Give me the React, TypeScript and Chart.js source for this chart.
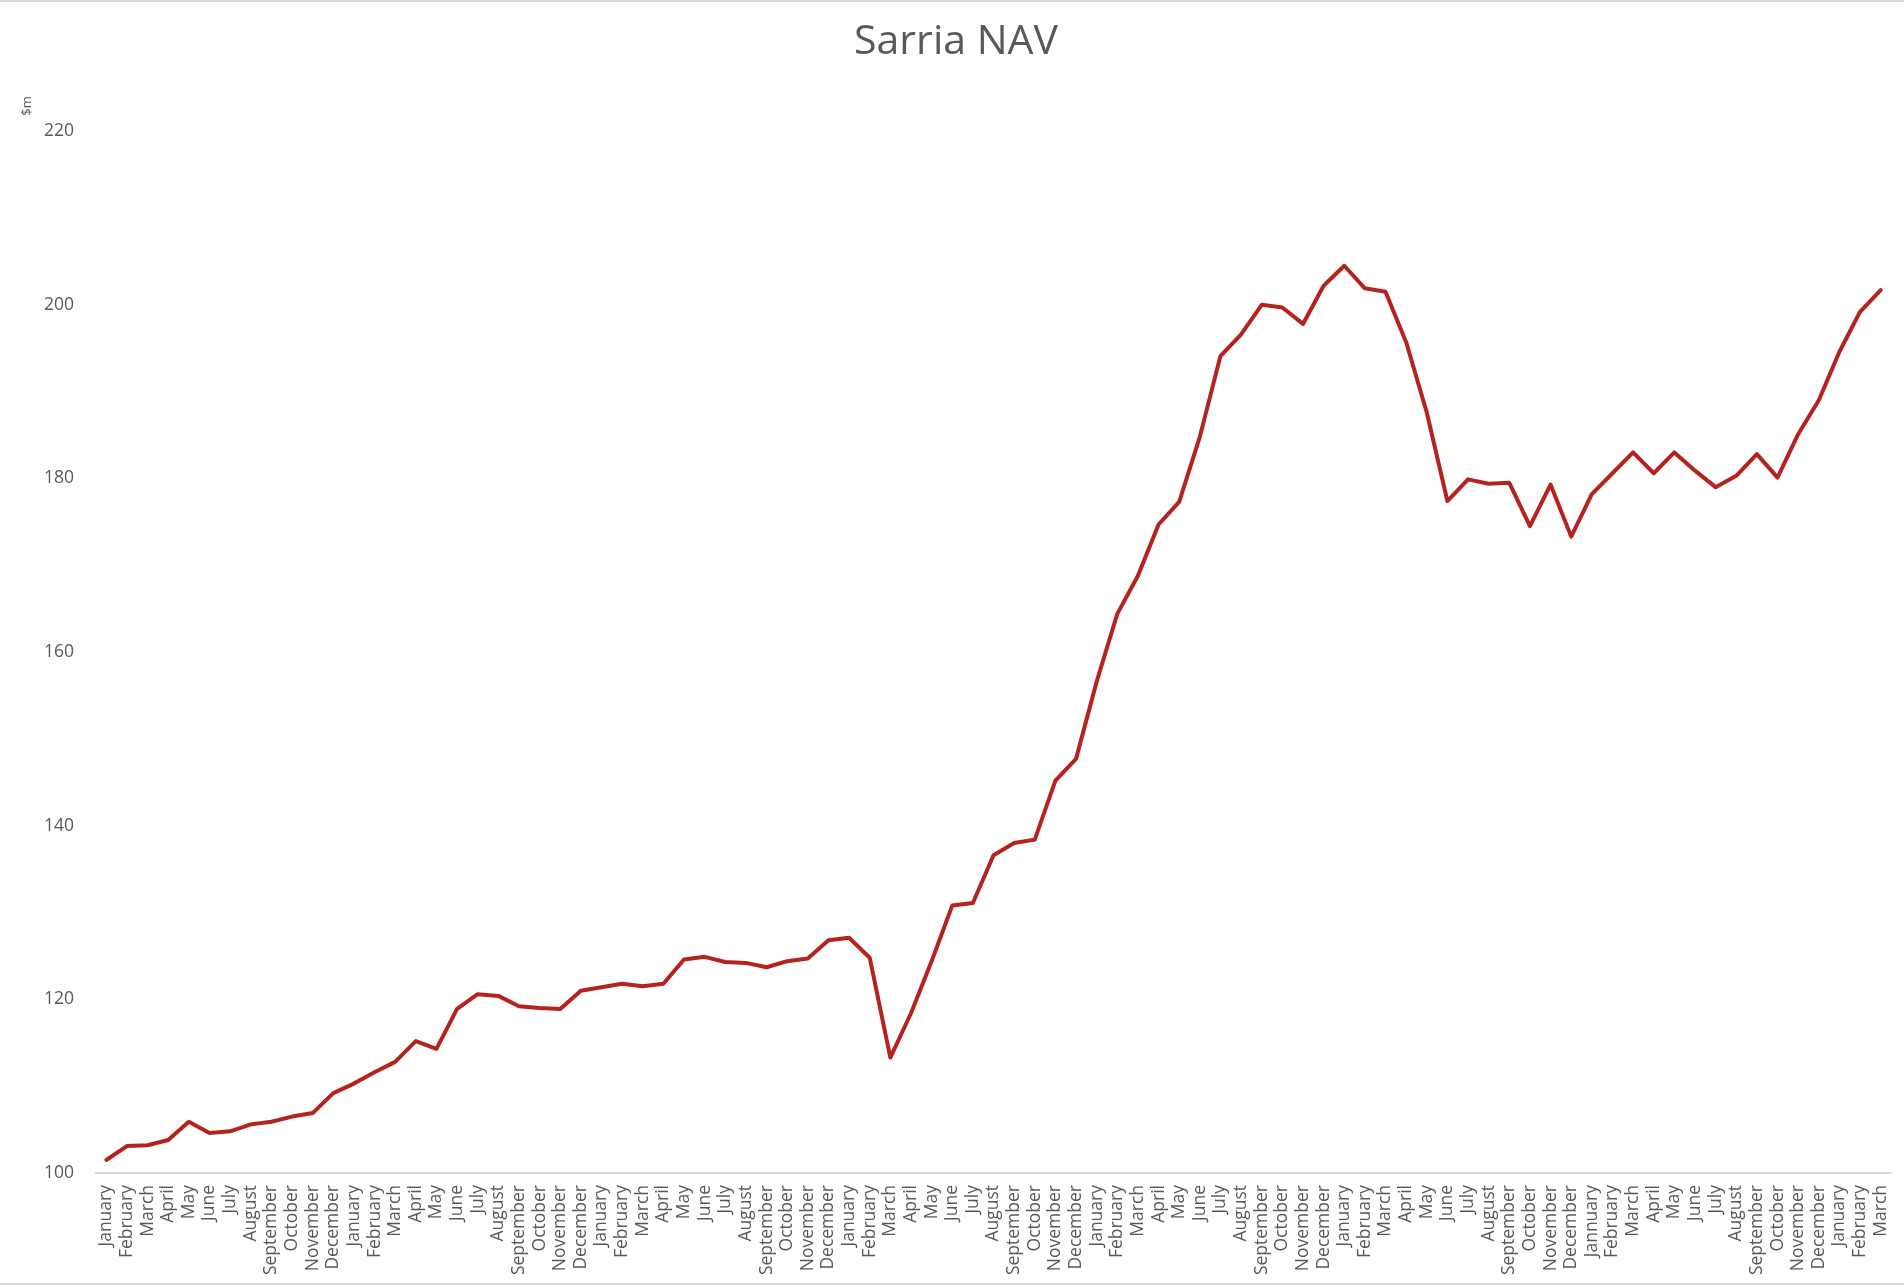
import React, { useEffect, useRef } from "react";
import { Chart, registerables } from "chart.js";

Chart.register(...registerables);

const categories: string[] = [
  "January", "February", "March", "April", "May", "June", "July", "August", "September", "October", "November", "December",
  "January", "February", "March", "April", "May", "June", "July", "August", "September", "October", "November", "December",
  "January", "February", "March", "April", "May", "June", "July", "August", "September", "October", "November", "December",
  "January", "February", "March", "April", "May", "June", "July", "August", "September", "October", "November", "December",
  "January", "February", "March", "April", "May", "June", "July", "August", "September", "October", "November", "December",
  "January", "February", "March", "April", "May", "June", "July", "August", "September", "October", "November", "December",
  "Jannuary", "February", "March", "April", "May", "June", "July", "August", "September", "October", "November", "December",
  "January", "February", "March",
];

const navValues: number[] = [
  101.5, 103.1, 103.2, 103.8, 105.9, 104.6, 104.8, 105.6, 105.9, 106.5, 106.9, 109.2,
  110.3, 111.6, 112.8, 115.2, 114.3, 118.9, 120.6, 120.4, 119.2, 119.0, 118.9, 121.0,
  121.4, 121.8, 121.5, 121.8, 124.6, 124.9, 124.3, 124.2, 123.7, 124.4, 124.7, 126.8,
  127.1, 124.8, 113.3, 118.4, 124.4, 130.8, 131.1, 136.6, 138.0, 138.4, 145.2, 147.7,
  156.6, 164.4, 168.8, 174.7, 177.3, 184.8, 194.1, 196.6, 200.0, 199.7, 197.8, 202.2,
  204.5, 201.9, 201.5, 195.7, 187.6, 177.4, 179.9, 179.4, 179.5, 174.5, 179.3, 173.3,
  178.2, 180.6, 183.0, 180.6, 183.0, 180.9, 179.0, 180.3, 182.8, 180.1, 185.1, 189.0,
  194.6, 199.2, 201.7,
];

const yMin = 100;
const yMax = 220;
const yStep = 20;
const titleText = "Sarria NAV";
const yUnitText = "$m";

const TEXT = "#595959";
const LINE = "#B4231E";
const RULE = "#D9D9D9";
const FONT = "'Open Sans', 'Noto Sans', sans-serif";

const W = 1904;
const H = 1286;

const decorPlugin = {
  id: "decor",
  beforeDraw(chart: any) {
    const ctx = chart.ctx;
    ctx.save();
    ctx.fillStyle = "#ffffff";
    ctx.fillRect(0, 0, chart.width, chart.height);
    ctx.fillStyle = RULE;
    ctx.fillRect(0, 0, chart.width, 2);
    ctx.fillRect(0, chart.height - 3, chart.width, 2);
    ctx.restore();
  },
  afterDraw(chart: any) {
    const ctx = chart.ctx;
    ctx.save();
    ctx.translate(27, 106);
    ctx.rotate(-Math.PI / 2);
    ctx.fillStyle = TEXT;
    ctx.font = `13px ${FONT}`;
    ctx.textAlign = "center";
    ctx.textBaseline = "middle";
    ctx.fillText(yUnitText, 0, 0);
    ctx.restore();
  },
};

export default function App() {
  const canvasRef = useRef<HTMLCanvasElement | null>(null);

  useEffect(() => {
    document.body.style.margin = "0";
    const canvas = canvasRef.current;
    if (!canvas) return;
    const chart = new Chart(canvas, {
      type: "line",
      data: {
        labels: categories,
        datasets: [
          {
            label: "NAV",
            data: navValues,
            borderColor: LINE,
            backgroundColor: LINE,
            borderWidth: 4,
            pointRadius: 0,
            tension: 0,
            borderJoinStyle: "round",
            borderCapStyle: "round",
            fill: false,
          },
        ],
      },
      options: {
        animation: false,
        responsive: false,
        maintainAspectRatio: false,
        devicePixelRatio: 1,
        layout: { padding: { left: 21, right: 13, top: 0, bottom: 0 } },
        plugins: {
          legend: { display: false },
          tooltip: { enabled: false },
          title: {
            display: true,
            text: titleText,
            color: TEXT,
            font: { family: FONT, size: 41, weight: "normal", lineHeight: 1.2 },
            padding: { top: 18, bottom: 64 },
          },
        },
        scales: {
          x: {
            type: "category",
            offset: true,
            grid: { display: false, drawTicks: false },
            border: { display: true, color: RULE, width: 2 },
            ticks: {
              autoSkip: false,
              minRotation: 90,
              maxRotation: 90,
              padding: 12,
              color: TEXT,
              font: { family: FONT, size: 17.5 },
            },
            afterFit: (s: any) => {
              s.height = 113;
              s.paddingLeft = 0;
              s.paddingRight = 0;
            },
          },
          y: {
            min: yMin,
            max: yMax,
            grid: { display: false, drawTicks: false },
            border: { display: false },
            ticks: {
              stepSize: yStep,
              padding: 22,
              color: TEXT,
              font: { family: FONT, size: 17.5 },
            },
            afterFit: (s: any) => {
              s.width = 75;
            },
          },
        },
      },
      plugins: [decorPlugin],
    } as any);
    return () => chart.destroy();
  }, []);

  return (
    <div style={{ width: W, height: H, position: "relative", background: "#fff" }}>
      <canvas ref={canvasRef} width={W} height={H} style={{ display: "block", width: W, height: H }} />
    </div>
  );
}
